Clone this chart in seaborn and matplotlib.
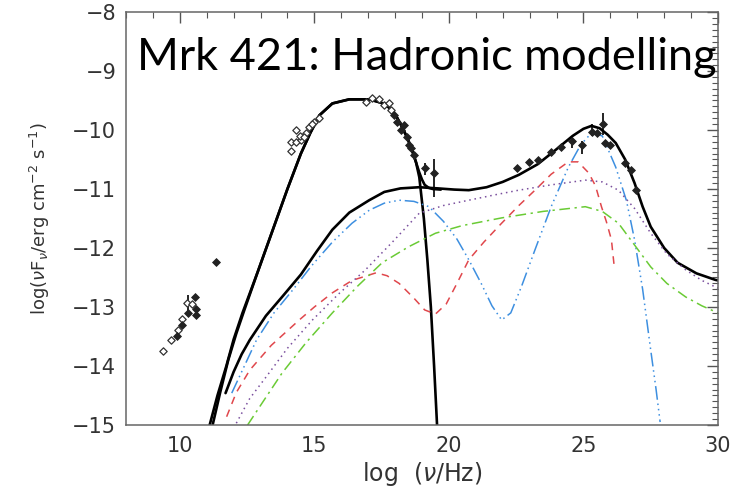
import numpy as np
import pandas as pd
import seaborn as sns
import matplotlib.pyplot as plt

# Curves (log nu, log nuFnu)
sync_x = [11.11, 11.4, 11.73, 12.0, 12.33, 12.9, 13.45, 14.0, 14.5, 14.85, 15.19, 15.67, 16.3, 17.04, 17.5, 17.78, 18.05, 18.26, 18.45, 18.63, 18.78, 18.9, 19.07, 19.2, 19.33, 19.45, 19.56]
sync_y = [-15.0, -14.5, -14.0, -13.55, -13.1, -12.4, -11.7, -11.0, -10.4, -10.05, -9.75, -9.55, -9.48, -9.48, -9.54, -9.62, -9.77, -9.95, -10.13, -10.34, -10.55, -10.8, -11.5, -12.2, -13.0, -14.0, -15.0]

total_x = [11.22, 11.5, 11.8, 12.1, 12.4, 12.9, 13.45, 14.0, 14.5, 14.85, 15.19, 15.67, 16.3, 17.04, 17.5, 17.78, 18.05, 18.26, 18.45, 18.63, 18.78, 18.9, 19.0, 19.1, 19.25, 19.4, 19.7]
total_y = [-15.0, -14.45, -13.9, -13.45, -13.05, -12.4, -11.7, -11.0, -10.4, -10.05, -9.75, -9.55, -9.48, -9.48, -9.54, -9.62, -9.77, -9.95, -10.13, -10.34, -10.55, -10.72, -10.84, -10.93, -10.98, -11.0, -11.01]

had_x = [11.7, 12.0, 12.3, 12.6, 13.2, 13.8, 14.5, 15.1, 15.67, 16.3, 17.04, 17.6, 18.2, 18.9, 19.6, 20.2, 20.74, 21.4, 22.0, 22.6, 23.3, 23.96, 24.6, 25.0, 25.3, 25.6, 25.9, 26.2, 26.55, 26.9, 27.2, 27.5, 28.0, 28.5, 29.2, 29.9, 30.0]
had_y = [-14.46, -14.1, -13.8, -13.56, -13.15, -12.83, -12.45, -12.05, -11.69, -11.4, -11.19, -11.05, -10.99, -10.97, -10.99, -11.01, -11.02, -10.97, -10.88, -10.76, -10.58, -10.34, -10.1, -9.98, -9.93, -9.97, -10.08, -10.22, -10.5, -10.9, -11.3, -11.64, -12.0, -12.25, -12.43, -12.54, -12.55]

blue_x = [11.93, 12.4, 12.85, 13.5, 14.2, 14.9, 15.67, 16.4, 17.04, 17.6, 18.15, 18.7, 19.26, 19.8, 20.3, 20.74, 21.2, 21.6, 21.96, 22.3, 22.7, 23.2, 23.8, 24.44, 24.9, 25.3, 25.7, 26.2, 26.6, 26.9, 27.2, 27.5, 27.7, 27.85]
blue_y = [-14.46, -14.0, -13.56, -13.1, -12.71, -12.3, -11.9, -11.58, -11.36, -11.24, -11.19, -11.21, -11.3, -11.55, -11.85, -12.2, -12.6, -12.98, -13.22, -13.1, -12.65, -12.03, -11.3, -10.63, -10.25, -10.05, -10.1, -10.63, -11.2, -11.86, -12.7, -13.73, -14.4, -14.95]

red_x = [11.74, 12.1, 12.6, 13.4, 14.44, 15.0, 15.67, 16.4, 17.3, 17.7, 18.15, 18.7, 19.1, 19.5, 19.9, 20.3, 20.74, 21.3, 21.96, 22.6, 23.2, 23.8, 24.44, 24.8, 25.2, 25.45, 25.67, 25.85, 26.04, 26.15]
red_y = [-14.86, -14.45, -14.07, -13.65, -13.22, -13.0, -12.76, -12.55, -12.42, -12.47, -12.6, -12.85, -13.05, -13.12, -12.95, -12.6, -12.2, -11.9, -11.58, -11.28, -11.02, -10.75, -10.54, -10.54, -10.73, -10.95, -11.3, -11.55, -11.86, -12.34]

purple_x = [12.1, 12.6, 13.2, 14.0, 14.93, 15.9, 16.9, 17.9, 18.9, 19.8, 20.74, 21.7, 22.6, 23.8, 25.07, 25.7, 26.3, 26.9, 27.5, 28.1, 28.8, 29.4, 29.9, 30.0]
purple_y = [-14.97, -14.55, -14.19, -13.7, -13.22, -12.78, -12.37, -11.9, -11.41, -11.28, -11.19, -11.1, -11.02, -10.93, -10.85, -10.88, -11.02, -11.33, -11.75, -12.1, -12.37, -12.55, -12.66, -12.68]

green_x = [12.52, 13.1, 13.8, 14.7, 15.67, 16.6, 17.52, 18.5, 19.5, 20.5, 21.96, 23.5, 25.07, 25.7, 26.3, 26.9, 27.5, 28.1, 28.8, 29.4, 29.9, 30.0]
green_y = [-15.0, -14.6, -14.12, -13.6, -13.1, -12.65, -12.25, -11.98, -11.75, -11.62, -11.49, -11.38, -11.3, -11.38, -11.58, -11.95, -12.32, -12.6, -12.83, -12.98, -13.08, -13.1]

# Observed points
radio_open_x = [9.37, 9.66, 9.93, 10.07, 10.26, 10.47]
radio_open_y = [-13.75, -13.56, -13.39, -13.2, -12.93, -12.95]
radio_fill_x = [9.89, 10.1, 10.3, 10.55, 10.6, 10.6, 11.33]
radio_fill_y = [-13.5, -13.31, -13.1, -12.83, -13.03, -13.14, -12.24]

opt_x = [14.14, 14.14, 14.33, 14.5, 14.33, 14.7, 14.81, 15.0, 15.19, 14.45, 14.6, 14.9]
opt_y = [-10.35, -10.2, -10.2, -10.17, -10.0, -10.05, -9.95, -9.86, -9.8, -10.1, -10.12, -9.9]

xray_x = [16.91, 17.15, 17.4, 17.6, 17.78, 17.85, 17.96, 18.08, 18.22, 18.33, 18.44, 18.52, 18.59, 18.7, 19.11, 19.44]
xray_y = [-9.52, -9.46, -9.47, -9.58, -9.55, -9.66, -9.75, -9.87, -10.0, -9.92, -10.12, -10.25, -10.3, -10.42, -10.64, -10.73]

gam_x = [22.52, 22.96, 23.33, 23.78, 24.15, 24.56, 24.93, 25.33, 25.52, 25.74, 25.81, 26.0, 26.56, 26.78, 26.96]
gam_y = [-10.65, -10.55, -10.51, -10.37, -10.29, -10.19, -10.25, -10.03, -10.05, -9.9, -10.22, -10.25, -10.56, -10.68, -11.02]

# error bars: x, low, high
err_x = [10.3, 19.11, 19.44, 24.56, 24.93, 25.33, 25.74]
err_lo = [-13.14, -10.76, -11.14, -10.3, -10.4, -10.1, -10.08]
err_hi = [-12.8, -10.56, -10.5, -10.1, -10.18, -9.9, -9.71]

sns.set_style('white')
fig = plt.figure(figsize=(7.53, 4.90), dpi=100)
ax = fig.add_axes([0.1673, 0.1327, 0.7862, 0.8428])

lines = [
    (sync_x, sync_y, 'black', '-', 1.9),
    (total_x, total_y, 'black', '-', 1.9),
    (had_x, had_y, 'black', '-', 1.9),
    (blue_x, blue_y, '#3d8fe0', (0, (9, 2.5, 1, 2.5, 1, 2.5, 1, 2.5)), 1.1),
    (red_x, red_y, '#e0474c', (0, (5, 4)), 1.1),
    (purple_x, purple_y, '#7a4f9e', (0, (1, 2.5)), 1.1),
    (green_x, green_y, '#6acb35', (0, (7, 3, 1.5, 3)), 1.1),
]
for lx, ly, col, ls, lw in lines:
    d = pd.DataFrame({'x': lx, 'y': ly})
    sns.lineplot(data=d, x='x', y='y', ax=ax, color=col, linestyle=ls,
                 linewidth=lw, sort=False, estimator=None)

ax.vlines(err_x, err_lo, err_hi, color='black', linewidth=1.2)

open_pts = pd.DataFrame({'x': radio_open_x + opt_x + xray_x[:6],
                         'y': radio_open_y + opt_y + xray_y[:6]})
fill_pts = pd.DataFrame({'x': radio_fill_x + xray_x[6:] + gam_x,
                         'y': radio_fill_y + xray_y[6:] + gam_y})
sns.scatterplot(data=open_pts, x='x', y='y', ax=ax, marker='D', s=14,
                facecolor='white', edgecolor='#333333', linewidth=0.9, zorder=3)
sns.scatterplot(data=fill_pts, x='x', y='y', ax=ax, marker='D', s=16,
                color='#222222', edgecolor='#222222', linewidth=0.6, zorder=3)

ax.set_xlim(8, 30)
ax.set_ylim(-15, -8)
ax.set_xticks([10, 15, 20, 25, 30])
ax.set_xticks(np.arange(8, 31, 1), minor=True)
ax.set_yticks(np.arange(-15, -7, 1))
ax.set_yticks(np.arange(-15, -7.95, 0.1), minor=True)
ax.tick_params(which='both', direction='in', top=True, right=True,
               color='#555555', labelcolor='#333333', labelsize=15)
ax.tick_params(which='major', length=8, width=1)
ax.tick_params(which='minor', length=4, width=0.8)
ax.tick_params(axis='x', pad=8)
ax.tick_params(axis='y', pad=7)
ax.set_xticklabels(['10', '15', '20', '25', '30'])
ax.set_yticklabels(['\u2212' + str(v) for v in range(15, 7, -1)])
for sp in ax.spines.values():
    sp.set_color('#666666')
    sp.set_linewidth(1.1)

ax.set_xlabel(r'log  ($\nu$/Hz)', fontsize=17, color='#333333')
ax.set_ylabel(r'log($\nu$F$_\nu$/erg cm$^{-2}$ s$^{-1}$)', fontsize=13, color='#333333')
ax.xaxis.set_label_coords(0.5, -0.085)
ax.yaxis.set_label_coords(-0.125, 0.5)

fig.text(137 / 753, 1 - 70 / 490, 'Mrk 421: Hadronic modelling',
         fontsize=32.5, family='Lato', color='black', va='baseline', ha='left')

fig.savefig('out.png', dpi=100)
